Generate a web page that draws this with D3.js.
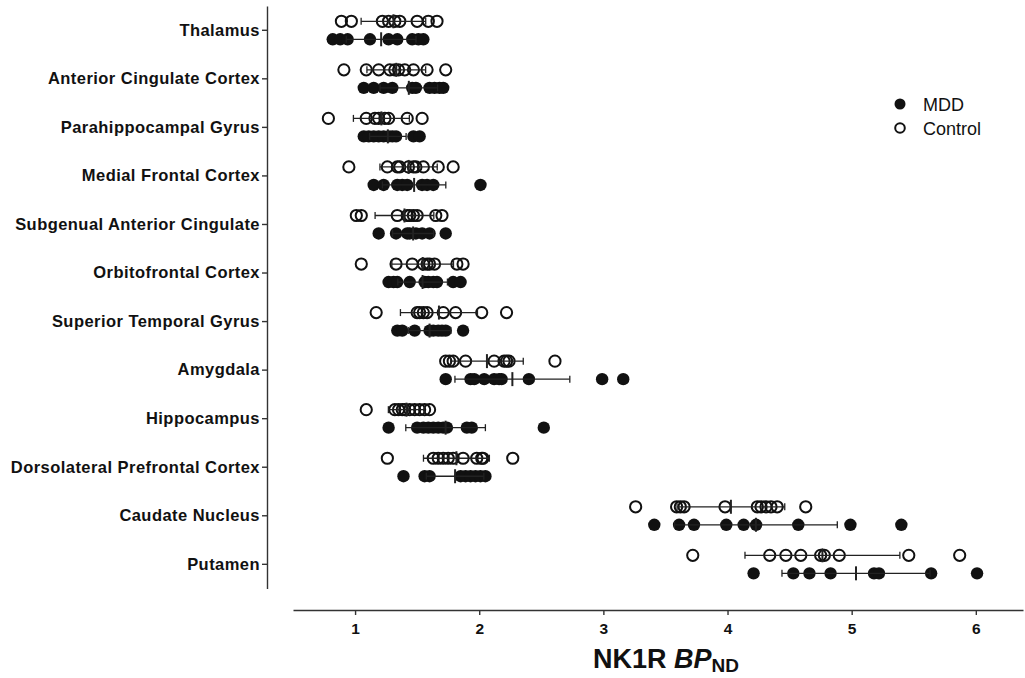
<!DOCTYPE html>
<html><head><meta charset="utf-8">
<script src="https://cdn.jsdelivr.net/npm/d3@7"></script>
<style>
html,body{margin:0;padding:0;background:#fff;}
svg{display:block;font-family:"Liberation Sans",Arial,Helvetica,sans-serif;}
</style></head>
<body>
<svg id="c" width="1025" height="678"></svg>
<script>
const regions = ["Thalamus","Anterior Cingulate Cortex","Parahippocampal Gyrus","Medial Frontal Cortex",
  "Subgenual Anterior Cingulate","Orbitofrontal Cortex","Superior Temporal Gyrus","Amygdala",
  "Hippocampus","Dorsolateral Prefrontal Cortex","Caudate Nucleus","Putamen"];

const controlValues = [
  [0.89,0.97,1.22,1.27,1.32,1.36,1.50,1.59,1.66],
  [0.91,1.09,1.19,1.28,1.32,1.35,1.40,1.47,1.58,1.73],
  [0.785,1.09,1.16,1.19,1.24,1.27,1.42,1.54],
  [0.95,1.26,1.34,1.36,1.43,1.47,1.49,1.55,1.67,1.79],
  [1.01,1.05,1.34,1.42,1.44,1.47,1.50,1.65,1.70],
  [1.05,1.33,1.46,1.55,1.58,1.60,1.64,1.82,1.87],
  [1.17,1.50,1.52,1.55,1.58,1.71,1.81,2.02,2.22],
  [1.73,1.76,1.79,1.89,2.12,2.20,2.22,2.24,2.61],
  [1.09,1.32,1.35,1.38,1.40,1.44,1.48,1.52,1.56,1.60],
  [1.26,1.63,1.67,1.71,1.75,1.79,1.87,1.98,2.02,2.03,2.27],
  [3.26,3.59,3.62,3.65,3.98,4.24,4.27,4.31,4.35,4.40,4.63],
  [3.72,4.34,4.47,4.59,4.75,4.78,4.90,5.46,5.87]
];

const mddValues = [
  [0.82,0.88,0.94,1.12,1.27,1.34,1.46,1.51,1.55],
  [1.07,1.15,1.23,1.30,1.46,1.49,1.60,1.64,1.68,1.71],
  [1.07,1.11,1.15,1.19,1.23,1.27,1.30,1.33,1.47,1.52],
  [1.15,1.23,1.34,1.38,1.42,1.54,1.58,1.63,2.01],
  [1.19,1.33,1.42,1.44,1.49,1.54,1.60,1.73],
  [1.27,1.31,1.34,1.44,1.56,1.59,1.63,1.66,1.79,1.85],
  [1.34,1.38,1.48,1.60,1.63,1.67,1.70,1.73,1.87],
  [1.73,1.93,1.96,2.04,2.12,2.16,2.18,2.40,2.99,3.16],
  [1.27,1.50,1.55,1.59,1.63,1.67,1.71,1.74,1.90,1.94,2.52],
  [1.39,1.56,1.60,1.85,1.89,1.93,1.97,2.01,2.05],
  [3.41,3.61,3.73,3.99,4.13,4.23,4.57,4.99,5.40],
  [4.21,4.53,4.66,4.83,5.18,5.22,5.64,6.01]
];

const xTicks = [1,2,3,4,5,6];
const legendLabels = ["MDD","Control"];

const svg = d3.select("#c");
const x = d3.scaleLinear().domain([0.5, 6.38]).range([293, 1023]);
const y = d3.scaleBand().domain(regions).range([6, 588.6]).paddingInner(0).paddingOuter(0);
const yc = c => y(c) + y.bandwidth()/2;
const OFF = 9, R = 5.6;
const ink = "#111";

// X axis
const xa = svg.append("g").attr("transform","translate(0,610)")
  .call(d3.axisBottom(x).tickValues(xTicks).tickSize(5).tickSizeOuter(0).tickFormat(d3.format("d")));
xa.select(".domain").attr("stroke","#333").attr("stroke-width",1.4);
xa.selectAll(".tick line").attr("stroke","#333").attr("stroke-width",1.4);
xa.selectAll(".tick text").attr("fill",ink).attr("font-size",15.5).attr("font-weight","bold")
  .attr("font-family","'Liberation Sans',Arial,sans-serif").attr("dy","1.0em");

// Y axis
const ya = svg.append("g").attr("transform","translate(267,0)")
  .call(d3.axisLeft(y).tickSize(5).tickSizeOuter(0));
ya.select(".domain").attr("stroke","#333").attr("stroke-width",1.4);
ya.selectAll(".tick line").attr("stroke","#333").attr("stroke-width",1.4);
ya.selectAll(".tick text").attr("fill",ink).attr("font-size",16.5).attr("font-weight","bold")
  .attr("letter-spacing","0.45px")
  .attr("font-family","'Liberation Sans',Arial,sans-serif").attr("x",-7);

// Axis title
const title = svg.append("text").attr("x",666).attr("y",668).attr("text-anchor","middle")
  .attr("font-size",27).attr("font-weight","bold").attr("fill",ink);
title.append("tspan").text("NK1R ");
title.append("tspan").attr("font-style","italic").text("BP");
title.append("tspan").attr("font-size",19).attr("dy",4).text("ND");

function group(values, dy, filled){
  regions.forEach((r,i)=>{
    const vals = values[i];
    const cy = yc(r) + dy;
    const m = d3.mean(vals), sd = d3.deviation(vals);
    const g = svg.append("g");
    g.selectAll("circle").data(vals).join("circle")
      .attr("cx", d=>x(d)).attr("cy", cy).attr("r", filled ? R+0.6 : R)
      .attr("fill", filled ? ink : "none")
      .attr("stroke", ink).attr("stroke-width", filled ? 0 : 2);
    const e = svg.append("g").attr("stroke","#222").attr("stroke-width",1.3);
    e.append("line").attr("x1",x(m-sd)).attr("x2",x(m+sd)).attr("y1",cy).attr("y2",cy);
    e.append("line").attr("x1",x(m-sd)).attr("x2",x(m-sd)).attr("y1",cy-3.5).attr("y2",cy+3.5);
    e.append("line").attr("x1",x(m+sd)).attr("x2",x(m+sd)).attr("y1",cy-3.5).attr("y2",cy+3.5);
    e.append("line").attr("x1",x(m)).attr("x2",x(m)).attr("y1",cy-7).attr("y2",cy+7).attr("stroke-width",2);
  });
}
group(controlValues, -OFF, false);
group(mddValues, OFF, true);

// Legend
const lg = svg.append("g");
legendLabels.forEach((l,i)=>{
  const ly = 104 + i*24;
  lg.append("circle").attr("cx",900).attr("cy",ly).attr("r", i===0?5.5:4.8)
    .attr("fill", i===0?ink:"none").attr("stroke",ink).attr("stroke-width", i===0?0:2);
  lg.append("text").attr("x",923).attr("y",ly+6.5).attr("font-size",18).attr("fill",ink).text(l);
});
</script>
</body></html>
